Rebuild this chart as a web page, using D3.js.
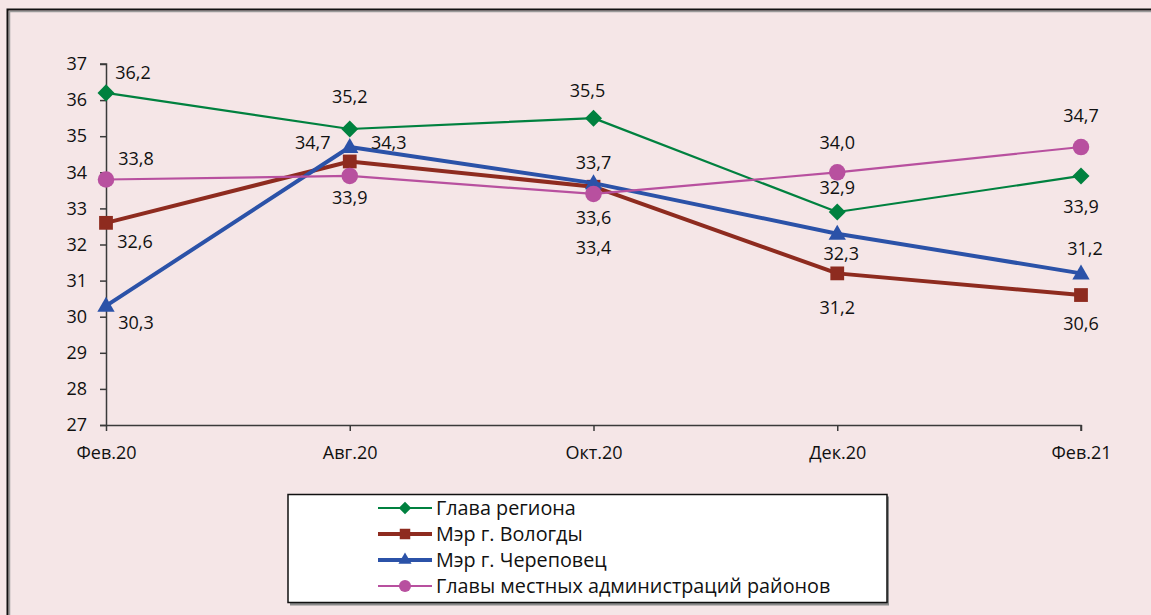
<!DOCTYPE html>
<html><head><meta charset="utf-8">
<script src="https://cdn.jsdelivr.net/npm/d3@7"></script>
<style>
html,body{margin:0;padding:0;background:#F5E6E7;}
svg{display:block;font-family:"Open Sans",sans-serif;}
</style></head>
<body><svg id="c" width="1151" height="615"></svg>
<script>
const categories = ["Фев.20","Авг.20","Окт.20","Дек.20","Фев.21"];
const seriesNames = ["Глава региона","Мэр г. Вологды","Мэр г. Череповец","Главы местных администраций районов"];
const glavaRegiona = [36.2, 35.2, 35.5, 32.9, 33.9];
const merVologdy = [32.6, 34.3, 33.6, 31.2, 30.6];
const merCherepovets = [30.3, 34.7, 33.7, 32.3, 31.2];
const glavyRaionov = [33.8, 33.9, 33.4, 34.0, 34.7];
const yTicks = [27,28,29,30,31,32,33,34,35,36,37];

// label placement offsets (px) relative to each point
const labelOffsets = [
  [[27,-20],[0,-32],[-6,-28],[0,-24],[0,31]],
  [[29,19],[39,-19],[0,31],[0,34],[0,28]],
  [[30,17],[-37,-5],[0,-21],[4,20],[4,-25]],
  [[30,-21],[0,22],[0,54],[0,-30],[0,-32]]
];
const colors = ["#00813F","#8E2B1F","#2B52A8","#B8509F"];
const widths = [2.2,4,4,2.2];
const symbols = [d3.symbolDiamond2, d3.symbolSquare, d3.symbolTriangle, d3.symbolCircle];
const symSizes = [185, 190, 130, 215];
const data = [glavaRegiona, merVologdy, merCherepovets, glavyRaionov];

const svg = d3.select("#c");
const fs = 18;
const lfs = 19.8;

// outer frame
svg.append("path").attr("d","M9.5,615 V11.5 H1151").attr("fill","none").attr("stroke","#9a9a9a").attr("stroke-width",1.5);
svg.append("path").attr("d","M7.5,615 V9.5 H1151").attr("fill","none").attr("stroke","#111").attr("stroke-width",2);

const x = d3.scalePoint().domain(categories).range([106,1081]);
const y = d3.scaleLinear().domain([27,37]).range([425,64]);

const axisColor = "#3a3a3a";
const yAxis = svg.append("g").attr("transform","translate(106,0)")
  .call(d3.axisLeft(y).tickValues(yTicks).tickSize(6).tickPadding(13).tickFormat(d3.format("d")));
const xAxis = svg.append("g").attr("transform","translate(0,425)")
  .call(d3.axisBottom(x).tickSize(6).tickPadding(15));
[yAxis,xAxis].forEach(g=>{
  g.select(".domain").attr("stroke",axisColor).attr("stroke-width",1.5);
  g.selectAll(".tick line").attr("stroke",axisColor).attr("stroke-width",1.5);
  g.selectAll("text").attr("fill","#111").style("font-size",fs+"px").style("font-family","Open Sans");
});
yAxis.select(".domain").attr("d","M-6,425.5H0.5V64H-6");
xAxis.select(".domain").attr("d","M106,0.5H1081V6");

const line = d3.line().x((d,i)=>x(categories[i])).y(d=>y(d));
const fmt = v => d3.format(".1f")(v).replace(".",",");

data.forEach((vals,s)=>{
  const g = svg.append("g");
  g.append("path").datum(vals).attr("d",line).attr("fill","none")
    .attr("stroke",colors[s]).attr("stroke-width",widths[s]).attr("stroke-linejoin","round");
  g.selectAll("path.m").data(vals).enter().append("path").attr("class","m")
    .attr("d",d3.symbol().type(symbols[s]).size(symSizes[s]))
    .attr("transform",(d,i)=>`translate(${x(categories[i])},${y(d) + (s===2?1:0)})`)
    .attr("fill",colors[s]);
});
data.forEach((vals,s)=>{
  svg.append("g").selectAll("text").data(vals).enter().append("text")
    .attr("x",(d,i)=>x(categories[i])+labelOffsets[s][i][0])
    .attr("y",(d,i)=>y(d)+labelOffsets[s][i][1])
    .attr("dy","0.36em").attr("text-anchor","middle")
    .style("font-size",fs+"px").attr("fill","#111").text(fmt);
});

// legend
const lg = svg.append("g");
lg.append("rect").attr("x",290).attr("y",496.5).attr("width",599).attr("height",109).attr("fill","#8a8a8a");
lg.append("rect").attr("x",288).attr("y",494.5).attr("width",599).attr("height",108).attr("fill","#fff").attr("stroke","#111").attr("stroke-width",1.5);
const rowY = [508,534,560,586];
const legSizes = [100, 110, 75, 115];
seriesNames.forEach((n,s)=>{
  lg.append("line").attr("x1",378).attr("x2",432).attr("y1",rowY[s]).attr("y2",rowY[s])
    .attr("stroke",colors[s]).attr("stroke-width",widths[s]);
  lg.append("path").attr("d",d3.symbol().type(symbols[s]).size(legSizes[s]))
    .attr("transform",`translate(405,${rowY[s]})`).attr("fill",colors[s]);
  lg.append("text").attr("x",436).attr("y",rowY[s]).attr("dy","0.36em")
    .style("font-size",lfs+"px").attr("fill","#111").text(n);
});
</script></body></html>
